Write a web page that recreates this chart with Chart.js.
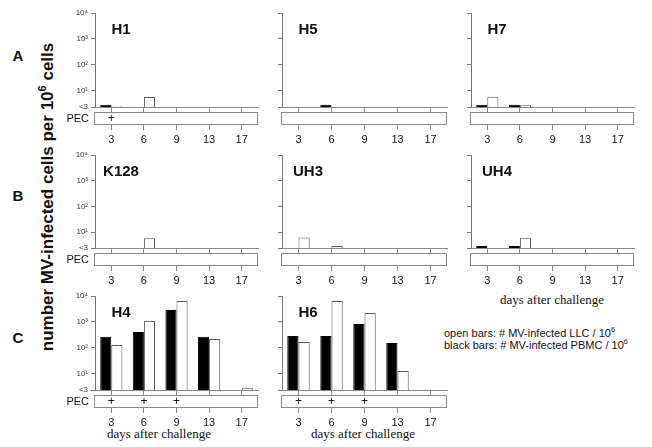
<!DOCTYPE html>
<html>
<head>
<meta charset="utf-8">
<script src="https://cdn.jsdelivr.net/npm/chart.js@4.4.1/dist/chart.umd.min.js"></script>
<style>
  body { margin: 0; background: #fff; }
  #fig { position: relative; width: 652px; height: 447px; overflow: hidden; font-family: "Liberation Sans", Arial, sans-serif; color: #111; }
  #fig canvas { position: absolute; }
  .lbl { position: absolute; white-space: nowrap; }
  .row { font-weight: bold; font-size: 15px; transform: translate(-50%, -50%); }
  .days { font-family: "Liberation Serif", "Times New Roman", serif; font-size: 13px; transform: translate(-50%, -50%); }
  .legend { font-size: 11px; line-height: 12px; }
  sup { font-size: 65%; line-height: 0; }
</style>
</head>
<body>
<div id="fig">
  <div class="lbl" style="left:48px; top:197px; font-weight:bold; font-size:17px; transform:translate(-50%,-50%) rotate(-90deg);">number MV-infected cells per 10<sup>6</sup> cells</div>
  <div class="lbl row" style="left:18px; top:55px;">A</div>
  <div class="lbl row" style="left:18px; top:195px;">B</div>
  <div class="lbl row" style="left:18px; top:337px;">C</div>
  <div class="lbl days" style="left:159px; top:434px;">days after challenge</div>
  <div class="lbl days" style="left:363px; top:434px;">days after challenge</div>
  <div class="lbl days" style="left:552px; top:300px;">days after challenge</div>
  <div class="lbl legend" style="left:444px; top:327px;">open bars: # MV-infected LLC / 10<sup>6</sup><br>black bars: # MV-infected PBMC / 10<sup>6</sup></div>
</div>
<script>
const DAYS = ['3', '6', '9', '13', '17'];
const PANELS = ['H1', 'H5', 'H7', 'K128', 'UH3', 'UH4', 'H4', 'H6'];

// black bars: MV-infected PBMC / 10^6 (null = no bar)
const PBMC = [
    [2.9, null, null, null, null],
    [null, 2.9, null, null, null],
    [2.9, 2.9, null, null, null],
    [null, null, null, null, null],
    [null, null, null, null, null],
    [2.9, 2.9, null, null, null],
    [270, 410, 2900, 270, null],
    [290, 290, 840, 155, null]
];

// open bars: MV-infected LLC / 10^6
const LLC = [
    [2.7, 5.8, null, null, null],
    [null, null, null, null, null],
    [6.0, 2.8, null, null, null],
    [null, 5.8, null, null, null],
    [6.1, 2.9, null, null, null],
    [null, 6.0, null, null, null],
    [130, 1100, 6400, 220, 2.9],
    [170, 6400, 2200, 13, null]
];

// days with a positive PEC result
const PEC_POSITIVE = [['3'], [], [], [], [], [], ['3', '6', '9'], ['3', '6', '9']];

const Y_TICKS = [2.4, 10, 100, 1000, 10000];
const Y_TICK_LABELS = ['<3', '10\u00b9', '10\u00b2', '10\u00b3', '10\u2074'];

// plot area edges
const COL_LEFT = [95, 282, 471];
const COL_RIGHT = [258, 447, 634];
const ROW_TOP = [13, 155, 296];
const ROW_BOTTOM = [107, 248, 390];

const Y_W = 40, PAD_TOP = 8, PAD_RIGHT = 6, X_H = 48;

const pecPlugin = {
    id: 'pecBox',
    afterDraw(chart, args, opts) {
        const ctx = chart.ctx;
        const area = chart.chartArea;
        const x = chart.scales.x;
        const top = area.bottom + 5;
        const h = 12;
        ctx.save();
        ctx.fillStyle = '#fff';
        ctx.strokeStyle = '#888';
        ctx.lineWidth = 1;
        ctx.fillRect(area.left - 1, top, area.right - area.left + 1, h);
        ctx.strokeRect(area.left - 0.5, top + 0.5, area.right - area.left, h);

        ctx.fillStyle = '#111';
        ctx.font = '12px "Liberation Sans", Arial, sans-serif';
        ctx.textAlign = 'center';
        ctx.textBaseline = 'middle';
        opts.plus.forEach(d => {
            ctx.fillText('+', x.getPixelForValue(DAYS.indexOf(d)), top + h / 2 + 1);
        });

        if (opts.showLabel) {
            ctx.font = '11px "Liberation Sans", Arial, sans-serif';
            ctx.textAlign = 'right';
            ctx.fillText('PEC', area.left - 6, top + h / 2 + 1);
        }

        ctx.font = 'bold 15px "Liberation Sans", Arial, sans-serif';
        ctx.textAlign = 'center';
        ctx.fillText(opts.name, area.left + 26, area.top + 17);
        ctx.restore();
    }
};

const fig = document.getElementById('fig');

PANELS.forEach((name, i) => {
    const col = i % 3;
    const row = Math.floor(i / 3);
    const plotW = COL_RIGHT[col] - COL_LEFT[col];
    const plotH = ROW_BOTTOM[row] - ROW_TOP[row];

    const canvas = document.createElement('canvas');
    canvas.width = Y_W + plotW + PAD_RIGHT;
    canvas.height = PAD_TOP + plotH + X_H;
    canvas.style.left = (COL_LEFT[col] - Y_W) + 'px';
    canvas.style.top = (ROW_TOP[row] - PAD_TOP) + 'px';
    fig.appendChild(canvas);

    new Chart(canvas.getContext('2d'), {
        type: 'bar',
        data: {
            labels: DAYS,
            datasets: [
                {
                    label: 'PBMC',
                    data: PBMC[i],
                    backgroundColor: '#000',
                    borderColor: '#000',
                    borderWidth: 1
                },
                {
                    label: 'LLC',
                    data: LLC[i],
                    backgroundColor: '#fff',
                    borderColor: '#555',
                    borderWidth: 1
                }
            ]
        },
        options: {
            responsive: false,
            animation: false,
            categoryPercentage: 0.68,
            barPercentage: 1.0,
            layout: { padding: { top: PAD_TOP, right: PAD_RIGHT, left: 0, bottom: 0 } },
            plugins: {
                legend: { display: false },
                tooltip: { enabled: false },
                pecBox: { name: name, plus: PEC_POSITIVE[i], showLabel: col === 0 }
            },
            scales: {
                x: {
                    type: 'category',
                    offset: true,
                    grid: { offset: false, drawOnChartArea: false, tickLength: 23, color: '#888' },
                    border: { color: '#888' },
                    ticks: {
                        color: '#111',
                        padding: 3,
                        maxRotation: 0,
                        font: { family: '"Liberation Sans", Arial, sans-serif', size: 11 }
                    },
                    afterFit: s => { s.height = X_H; }
                },
                y: {
                    type: 'logarithmic',
                    min: 2.4,
                    max: 10000,
                    afterBuildTicks: s => { s.ticks = Y_TICKS.map(v => ({ value: v })); },
                    grid: { drawOnChartArea: false, tickLength: 4, color: '#777' },
                    border: { color: '#777' },
                    ticks: {
                        display: col === 0,
                        color: '#333',
                        padding: 3,
                        font: { family: '"Liberation Sans", Arial, sans-serif', size: 8 },
                        callback: (v, idx) => Y_TICK_LABELS[idx]
                    },
                    afterFit: s => { s.width = Y_W; }
                }
            }
        },
        plugins: [pecPlugin]
    });
});
</script>
</body>
</html>
